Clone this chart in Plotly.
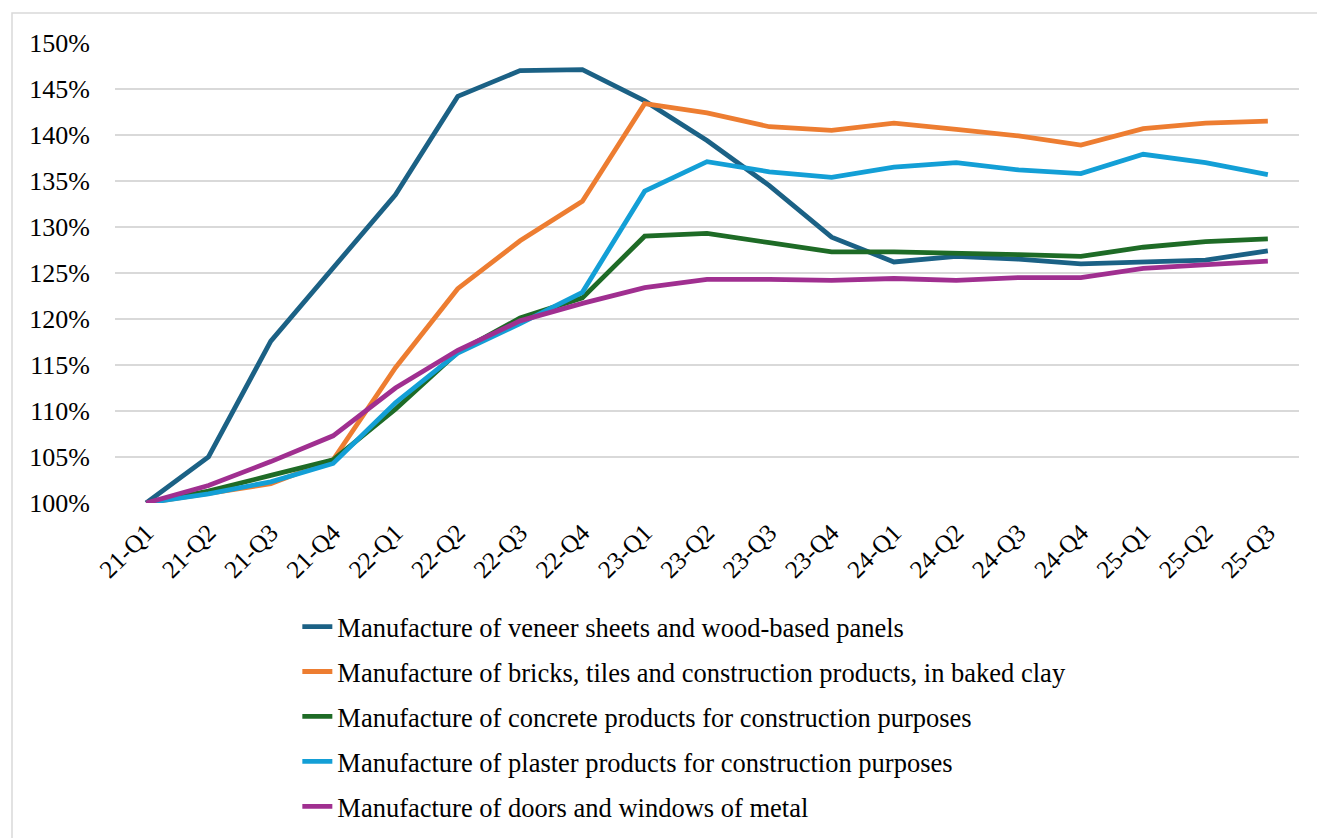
import plotly.graph_objects as go

quarters = ["21-Q1", "21-Q2", "21-Q3", "21-Q4", "22-Q1", "22-Q2", "22-Q3", "22-Q4",
            "23-Q1", "23-Q2", "23-Q3", "23-Q4", "24-Q1", "24-Q2", "24-Q3", "24-Q4",
            "25-Q1", "25-Q2", "25-Q3"]

veneer = [100, 105.0, 117.6, 125.5, 133.5, 144.2, 147.0, 147.1, 143.7, 139.4,
          134.5, 128.9, 126.2, 126.8, 126.5, 126.0, 126.2, 126.4, 127.4]
bricks = [100, 101.0, 102.1, 104.7, 114.7, 123.3, 128.5, 132.8, 143.4, 142.4,
          140.9, 140.5, 141.3, 140.6, 139.9, 138.9, 140.7, 141.3, 141.5]
concrete = [100, 101.3, 103.0, 104.7, 110.2, 116.4, 120.1, 122.3, 129.0, 129.3,
            128.3, 127.3, 127.3, 127.2, 127.0, 126.8, 127.8, 128.4, 128.7]
plaster = [100, 101.0, 102.3, 104.3, 110.9, 116.3, 119.5, 122.9, 133.9, 137.1,
           136.0, 135.4, 136.5, 137.0, 136.2, 135.8, 137.9, 137.0, 135.7]
doors = [100, 101.9, 104.5, 107.3, 112.5, 116.6, 119.8, 121.7, 123.4, 124.3,
         124.3, 124.2, 124.4, 124.2, 124.5, 124.5, 125.5, 125.9, 126.3]

names = ["Manufacture of veneer sheets and wood-based panels",
         "Manufacture of bricks, tiles and construction products, in baked clay",
         "Manufacture of concrete products for construction purposes",
         "Manufacture of plaster products for construction purposes",
         "Manufacture of doors and windows of metal"]
colors = ["#1B6185", "#ED7D31", "#1E6B26", "#139FD6", "#A02F90"]
series = [veneer, bricks, concrete, plaster, doors]

fig = go.Figure()
for i, (name, vals, col) in enumerate(zip(names, series, colors)):
    fig.add_trace(go.Scatter(x=quarters, y=vals, name=name, mode="lines",
                             line=dict(color=col, width=4.8),
                             legendgroup=str(i)))

font_family = "Liberation Serif, Times New Roman, serif"
fig.update_layout(
    width=1317, height=838,
    margin=dict(l=115, r=18, t=43, b=335, autoexpand=False),
    paper_bgcolor="white", plot_bgcolor="white",
    font=dict(family=font_family, size=24, color="#000000"),
    showlegend=True,
    legend=dict(x=0.154, xanchor="left", y=-0.217, yanchor="top",
                orientation="v", tracegroupgap=7.5,
                font=dict(family=font_family, size=26.5, color="#000000")),
    xaxis=dict(type="category", range=[-0.5, 18.5], tickangle=-45,
               showgrid=False, showline=False, ticks="", automargin=False,
               ticklabelstandoff=9,
               tickfont=dict(size=25)),
    yaxis=dict(range=[100, 150], dtick=5, ticksuffix="%",
               showgrid=True, gridcolor="#D9D9D9", gridwidth=1.5,
               zeroline=False, showline=False, ticks="", automargin=False,
               ticklabelstandoff=24,
               tickfont=dict(size=26)),
    shapes=[dict(type="rect", xref="paper", yref="paper",
                 x0=(12 - 115) / 1184, x1=1.05,
                 y0=-0.8, y1=(503 - 13) / 460,
                 line=dict(color="#D9D9D9", width=1.5), fillcolor="rgba(0,0,0,0)",
                 layer="below")],
)

fig.write_html("out.html", config={"displayModeBar": False},
               post_script="document.body.style.margin='0';")
